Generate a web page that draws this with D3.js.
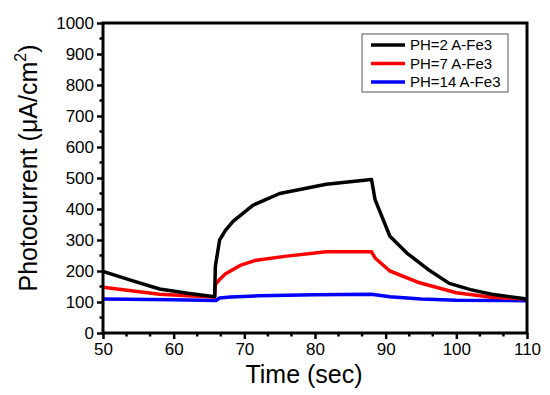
<!DOCTYPE html>
<html>
<head>
<meta charset="utf-8">
<script src="https://cdn.jsdelivr.net/npm/d3@7"></script>
<style>
  body { margin: 0; background: #fff; font-family: "Liberation Sans", Arial, sans-serif; }
</style>
</head>
<body>
<div id="container"><svg></svg></div>
<script>
// series: [time (sec), photocurrent (uA/cm2)]
let ph2 = [[50, 199], [54, 170], [58, 142], [62, 128], [65.8, 117], [65.9, 215], [66.5, 300],
    [67.3, 330], [68.4, 360], [71.2, 412], [75, 450], [81.6, 480], [88, 495], [88.5, 430],
    [90.6, 312], [93, 258], [96, 205], [99, 160], [102, 140], [105, 125], [110, 110]];
let ph7 = [[50, 148], [54, 136], [58, 125], [62, 120], [65.8, 116], [65.9, 156], [66.4, 170],
    [67.3, 190], [69.4, 218], [71.7, 235], [76, 248], [81.6, 262], [88, 262], [88.5, 242],
    [90.6, 200], [94.8, 162], [100, 130], [105, 115], [110, 110]];
let ph14 = [[50, 110], [60, 107], [66, 105], [66.5, 113], [68, 116], [72, 120], [80, 123],
    [88, 125], [90.6, 117], [95, 110], [100, 106], [110, 104]];

let seriesNames = ['PH=2 A-Fe3', 'PH=7 A-Fe3', 'PH=14 A-Fe3'];
let seriesColors = ['#000000', '#ff0000', '#0000ff'];
let seriesData = [ph2, ph7, ph14];

let xTicks = [50, 60, 70, 80, 90, 100, 110];
let yTicks = [0, 100, 200, 300, 400, 500, 600, 700, 800, 900, 1000];

let width = 550, height = 395;
let fontFamily = '"Liberation Sans", Arial, sans-serif';

function draw_main() {
    let padding = {left: 103, right: 23, top: 23, bottom: 62};
    let svg = d3.select('#container').select('svg')
        .attr('width', width)
        .attr('height', height);

    let x = d3.scaleLinear().domain([50, 110]).range([padding.left, width - padding.right]);
    let y = d3.scaleLinear().domain([0, 1000]).range([height - padding.bottom, padding.top]);

    // minor ticks
    let xMinor = d3.range(50, 110.01, 10 / 3).filter(v => Math.abs(v - Math.round(v / 10) * 10) > 0.1);
    let yMinor = d3.range(50, 1000, 100);

    let axisX = d3.axisBottom(x).tickValues(xTicks).tickSize(6).tickSizeOuter(0).tickPadding(4).tickFormat(d => d);
    let axisY = d3.axisLeft(y).tickValues(yTicks).tickSize(6).tickSizeOuter(0).tickPadding(3).tickFormat(d => d);

    let gx = svg.append('g')
        .attr('transform', `translate(0, ${height - padding.bottom})`)
        .call(axisX);
    let gy = svg.append('g')
        .attr('transform', `translate(${padding.left}, 0)`)
        .call(axisY);

    [gx, gy].forEach(g => {
        g.select('.domain').remove();
        g.selectAll('line').attr('stroke', '#000').attr('stroke-width', 2.5);
        g.selectAll('text')
            .attr('font-family', fontFamily)
            .attr('font-size', '17px')
            .attr('fill', '#000');
    });

    svg.append('g')
        .selectAll('line')
        .data(xMinor)
        .enter()
        .append('line')
        .attr('x1', d => x(d)).attr('x2', d => x(d))
        .attr('y1', height - padding.bottom).attr('y2', height - padding.bottom + 3.5)
        .attr('stroke', '#000').attr('stroke-width', 2.5);
    svg.append('g')
        .selectAll('line')
        .data(yMinor)
        .enter()
        .append('line')
        .attr('x1', padding.left - 3.5).attr('x2', padding.left)
        .attr('y1', d => y(d)).attr('y2', d => y(d))
        .attr('stroke', '#000').attr('stroke-width', 2.5);

    // lines
    let line = d3.line().x(d => x(d[0])).y(d => y(d[1]));
    let plot = svg.append('g');
    plot.append('defs').append('clipPath').attr('id', 'clip')
        .append('rect')
        .attr('x', padding.left).attr('y', padding.top)
        .attr('width', width - padding.left - padding.right)
        .attr('height', height - padding.top - padding.bottom);
    [2, 1, 0].forEach(i => {
        plot.append('path')
            .datum(seriesData[i])
            .attr('d', line)
            .attr('fill', 'none')
            .attr('stroke', seriesColors[i])
            .attr('stroke-width', 3.5)
            .attr('stroke-linejoin', 'round')
            .attr('clip-path', 'url(#clip)');
    });

    // frame
    svg.append('rect')
        .attr('x', padding.left).attr('y', padding.top)
        .attr('width', width - padding.left - padding.right)
        .attr('height', height - padding.top - padding.bottom)
        .attr('fill', 'none')
        .attr('stroke', '#000')
        .attr('stroke-width', 3);

    // legend
    let lg = svg.append('g').attr('transform', 'translate(362, 34)');
    lg.append('rect')
        .attr('width', 146).attr('height', 58)
        .attr('fill', '#fff').attr('stroke', '#555').attr('stroke-width', 1);
    seriesNames.forEach((name, i) => {
        let row = lg.append('g').attr('transform', `translate(0, ${11 + i * 18.5})`);
        row.append('line')
            .attr('x1', 9).attr('x2', 43)
            .attr('stroke', seriesColors[i]).attr('stroke-width', 3.5);
        row.append('text')
            .attr('x', 48).attr('dy', '0.35em')
            .attr('font-family', fontFamily)
            .attr('font-size', '15px')
            .attr('fill', '#000')
            .text(name);
    });

    // axis titles
    svg.append('text')
        .attr('x', 304)
        .attr('y', 383)
        .attr('text-anchor', 'middle')
        .attr('font-family', fontFamily)
        .attr('font-size', '25px')
        .text('Time (sec)');

    let yt = svg.append('text')
        .attr('transform', `translate(37, 168) rotate(-90)`)
        .attr('text-anchor', 'middle')
        .attr('font-family', fontFamily)
        .attr('font-size', '25px');
    yt.append('tspan').text('Photocurrent (μA/cm');
    yt.append('tspan').attr('font-size', '16px').attr('dy', '-0.7em').text('2');
    yt.append('tspan').attr('dy', '0.45em').text(')');
}

draw_main();
</script>
</body>
</html>
